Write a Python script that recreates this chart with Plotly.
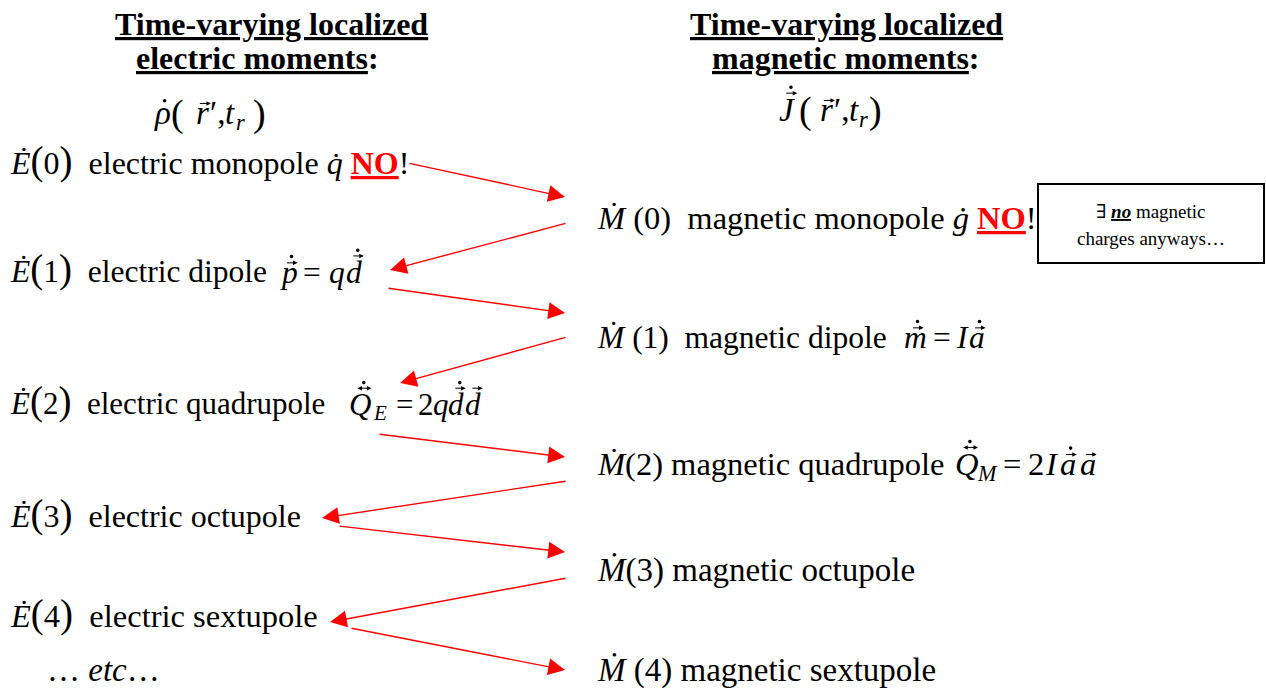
import plotly.graph_objects as go

NB = "\u00a0"
RED = "#ff0000"
NO_RED = "<span style='color:#ff0000'><b><u>NO</u></b></span>"

def big_paren(n, size=39):
    return ("<span style='font-size:%dpx'>(</span>%s<span style='font-size:%dpx'>)</span>"
            % (size, n, size))

# ---------------- text content ----------------
heading_left = ["<b><u>Time-varying localized</u></b>", "<b><u>electric moments</u>:</b>"]
heading_right = ["<b><u>Time-varying localized</u></b>", "<b><u>magnetic moments</u>:</b>"]

electric_labels = [
    "<i>\u0116</i>" + big_paren("0") + NB + " electric monopole" + NB + "<i>q\u0307</i> " + NO_RED + "!",
    "<i>\u0116</i>" + big_paren("1") + NB + " electric dipole",
    "<i>\u0116</i>" + big_paren("2") + NB + " electric quadrupole",
    "<i>\u0116</i>" + big_paren("3") + NB + " electric octupole",
    "<i>\u0116</i>" + big_paren("4") + NB + " electric sextupole",
    "\u2026 <i>etc</i>\u2026",
]
magnetic_labels = [
    "<i>\u1e40</i>" + NB + "(0)" + NB + " magnetic monopole" + NB + "<i>g\u0307</i> " + NO_RED + "!",
    "<i>\u1e40</i>" + NB + "(1)" + NB + " magnetic dipole",
    "<i>\u1e40</i>(2) magnetic quadrupole",
    "<i>\u1e40</i>(3) magnetic octupole",
    "<i>\u1e40</i>" + NB + "(4) magnetic sextupole",
]
note_lines = ["\u2203 <b><i><u>no</u></i></b> magnetic", "charges anyways\u2026"]

# formula glyphs (decorations: v=vector arrow, d=dot, w=double arrow; _s short letter, _t tall letter)
rho_glyphs = ["<i>\u03c1</i>", "(", "<i>r</i>", "\u2032,", "<i>t</i>", "<i>r</i>", ")"]
rho_deco = ["d_s", "paren", "v_s", "", "", "sub", "paren"]
J_glyphs = ["<i>J</i>", "(", "<i>r</i>", "\u2032,", "<i>t</i>", "<i>r</i>", ")"]
J_deco = ["vd_t", "paren", "v_s", "", "", "sub", "paren"]
E1_glyphs = ["<i>p</i>", "=", "<i>q</i>", "<i>d</i>"]
E1_deco = ["vd_s", "", "", "vd_t"]
E2_glyphs = ["<i>Q</i>", "<i>E</i>", "=", "2", "<i>q</i>", "<i>d</i>", "<i>d</i>"]
E2_deco = ["wd_t", "sub", "", "", "", "vd_t", "v_t"]
M1_glyphs = ["<i>m</i>", "=", "<i>I</i>", "<i>a</i>"]
M1_deco = ["vd_s", "", "", "vd_s"]
M2_glyphs = ["<i>Q</i>", "<i>M</i>", "=", "2", "<i>I</i>", "<i>a</i>", "<i>a</i>"]
M2_deco = ["wd_t", "sub", "", "", "", "vd_s", "v_s"]

# ---------------- layout positions (pixels) ----------------
electric_x = [8, 8, 8, 8, 8, 45]
electric_y = [164, 272, 404, 517, 617, 670]
electric_text_shift = [-3, -3, -3, -3, -3, 0]
electric_size = [32, 31.5, 31, 32, 32.5, 33]
magnetic_x = [595, 595, 595, 595, 595]
magnetic_y = [218, 337, 464, 570, 670]
magnetic_size = [32.5, 31.5, 32.5, 33, 33]

rho_x = [162, 177, 202, 217, 230, 240, 259]
J_x = [787, 805, 826, 841, 854, 863, 875]
E1_x = [289, 312, 337, 354]
E2_x = [360, 380, 404, 426, 441, 456, 473]
M1_x = [915, 942, 962, 977]
M2_x = [966, 987, 1012, 1036, 1052, 1068, 1088]

# ---------------- red arrows: tail -> head ----------------
arrow_tail_x = [408, 567, 387, 567, 378, 567, 338, 567, 350]
arrow_tail_y = [163, 223, 288, 337, 434, 481, 526, 578, 628]
arrow_head_x = [565, 390, 565, 400, 565, 322, 565, 330, 565]
arrow_head_y = [197, 270, 313, 383, 457, 518, 552, 622, 670]

FONT = "Liberation Serif, Times New Roman, DejaVu Serif, serif"
HEAD = 32

fig = go.Figure()
fig.add_trace(go.Scatter(x=[0, 1266], y=[0, 688], mode="markers",
                         marker=dict(opacity=0), hoverinfo="skip", showlegend=False))

ann = []
shapes = []

def txt(x, y, s, size, xanchor="left"):
    ann.append(dict(x=x, y=y, xref="x", yref="y", text=s, showarrow=False,
                    xanchor=xanchor, yanchor="middle",
                    font=dict(family=FONT, size=size, color="black")))

def dot(x, y, r=1.8):
    shapes.append(dict(type="circle", xref="x", yref="y", x0=x - r, x1=x + r,
                       y0=y - r, y1=y + r, fillcolor="black", line=dict(width=0)))

def vec(xc, y, w, both=False):
    ann.append(dict(x=xc + w / 2, y=y, ax=xc - w / 2, ay=y, xref="x", yref="y",
                    axref="x", ayref="y", text="", showarrow=True, arrowhead=2,
                    arrowsize=0.9, arrowwidth=1.0, arrowcolor="black",
                    arrowside="end+start" if both else "end", standoff=0, startstandoff=0))

def formula(glyphs, xs, decos, yc, s):
    base = yc + 0.33 * s
    for g, x, d in zip(glyphs, xs, decos):
        if d == "sub":
            txt(x, yc + 0.28 * s, g, 0.68 * s, "center")
            continue
        if d == "paren":
            txt(x, yc, g, 1.15 * s, "center")
            continue
        txt(x, yc, g, s, "center")
        if not d:
            continue
        kind, h = d.split("_")
        if h == "s":
            vy, dy, dx = base - 0.62 * s, base - 0.82 * s, 0.08 * s
        else:
            vy, dy, dx = base - 0.84 * s, base - 1.02 * s, 0.12 * s
        if kind == "d":
            dot(x + dx, base - 0.7 * s)
            continue
        if "v" in kind:
            vec(x + dx, vy, 0.38 * s)
        if "w" in kind:
            vec(x + dx, vy, 0.5 * s, both=True)
        if "d" in kind:
            dot(x + dx, dy)

txt(271, 24, heading_left[0], HEAD, "center")
txt(257, 58, heading_left[1], HEAD, "center")
txt(846, 24, heading_right[0], HEAD, "center")
txt(845, 58, heading_right[1], HEAD, "center")

for x, y, dy, s, sz in zip(electric_x, electric_y, electric_text_shift, electric_labels, electric_size):
    txt(x, y + dy, s, sz)
for x, y, s, sz in zip(magnetic_x, magnetic_y, magnetic_labels, magnetic_size):
    txt(x, y, s, sz)

formula(rho_glyphs, rho_x, rho_deco, 113, 33)
formula(J_glyphs, J_x, J_deco, 110, 33)
formula(E1_glyphs, E1_x, E1_deco, electric_y[1], electric_size[1])
formula(E2_glyphs, E2_x, E2_deco, electric_y[2], electric_size[2])
formula(M1_glyphs, M1_x, M1_deco, magnetic_y[1], magnetic_size[1])
formula(M2_glyphs, M2_x, M2_deco, magnetic_y[2], magnetic_size[2])

txt(1151, 211, note_lines[0], 19, "center")
txt(1151, 238, note_lines[1], 19, "center")
shapes.append(dict(type="rect", xref="x", yref="y", x0=1038, y0=184, x1=1264, y1=263,
                   line=dict(color="black", width=2), fillcolor="rgba(0,0,0,0)"))

for tx, ty, hx, hy in zip(arrow_tail_x, arrow_tail_y, arrow_head_x, arrow_head_y):
    ann.append(dict(x=hx, y=hy, ax=tx, ay=ty, xref="x", yref="y", axref="x", ayref="y",
                    text="", showarrow=True, arrowhead=2, arrowsize=2.4, arrowwidth=1.4,
                    arrowcolor=RED, standoff=0, startstandoff=0))

fig.update_layout(
    width=1266, height=688,
    margin=dict(l=0, r=0, t=0, b=0),
    paper_bgcolor="white", plot_bgcolor="white",
    xaxis=dict(range=[0, 1266], visible=False, fixedrange=True),
    yaxis=dict(range=[688, 0], visible=False, fixedrange=True),
    annotations=ann,
    shapes=shapes,
    showlegend=False,
)

fig.write_html("out.html", config={"displayModeBar": False},
               post_script="document.body.style.margin='0px';")
